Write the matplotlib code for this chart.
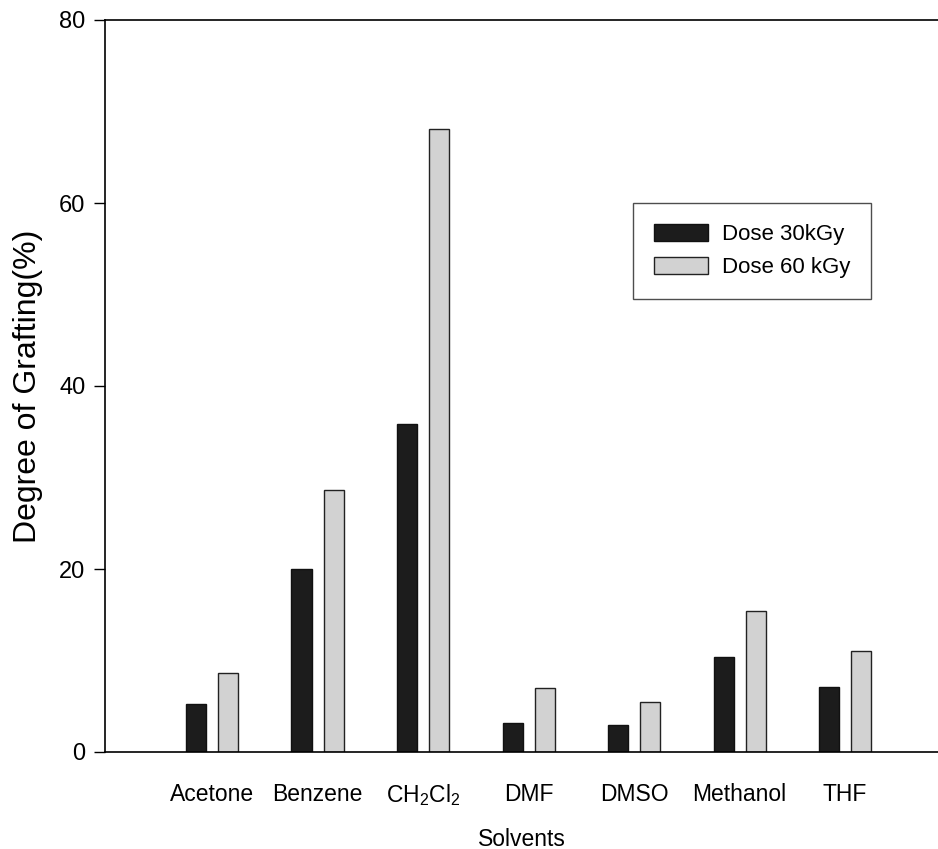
import matplotlib
matplotlib.use('Agg')
import matplotlib.pyplot as plt
import numpy as np

matplotlib.rcParams['font.family'] = ['Liberation Sans', 'DejaVu Sans']
matplotlib.rcParams['mathtext.default'] = 'regular'

solvents = ['Acetone', 'Benzene', 'CH$_2$Cl$_2$', 'DMF', 'DMSO', 'Methanol', 'THF']
dose_30 = [5.3, 20.0, 35.8, 3.2, 2.9, 10.4, 7.1]
dose_60 = [8.6, 28.6, 68.1, 7.0, 5.5, 15.4, 11.0]
yticks = [0, 20, 40, 60, 80]

fig = plt.figure(figsize=(9.38, 8.49), dpi=100)
ax = fig.add_axes([105/938, 1 - 752/849, 1 - 105/938, (752 - 20)/849])

x = np.arange(len(solvents))
w = 0.19
off = 0.152
ax.bar(x - off, dose_30, w, color='#1c1c1c', edgecolor='#111111', lw=1.0, label='Dose 30kGy')
ax.bar(x + off, dose_60, w, color='#d2d2d2', edgecolor='#222222', lw=1.0, label='Dose 60 kGy')

ax.set_xlim(-1.014, 6.88)
ax.set_ylim(0, 80)
ax.set_yticks(yticks)
ax.set_xticks(x)
ax.set_xticklabels(solvents, fontsize=16.5)
ax.tick_params(axis='x', length=0, pad=22)
ax.tick_params(axis='y', direction='out', length=8, width=1, labelsize=17, pad=6)
ax.spines['right'].set_visible(False)
for s in ['left', 'top', 'bottom']:
    ax.spines[s].set_linewidth(1.2)

ax.set_ylabel('Degree of Grafting(%)', fontsize=23, labelpad=12)
fig.text(522/938, 1 - 839/849, 'Solvents', fontsize=16.5, ha='center', va='center')

leg = ax.legend(loc='upper left', bbox_to_anchor=(0.634, 0.750), fontsize=16,
                frameon=True, fancybox=False, edgecolor='#222222',
                handlelength=2.4, handleheight=0.75, borderpad=0.95, labelspacing=0.55,
                handletextpad=0.65, borderaxespad=0)
leg.get_frame().set_linewidth(1.0)

fig.savefig('out.png', dpi=100)
